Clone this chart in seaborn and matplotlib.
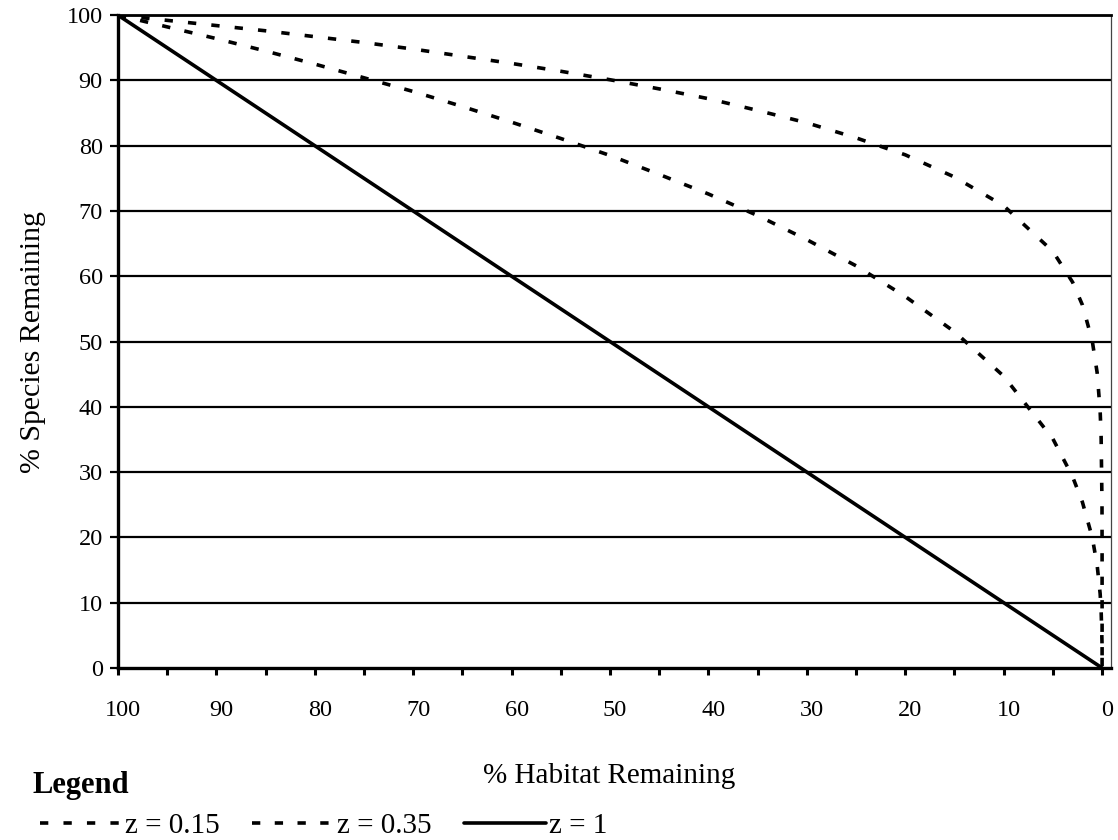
import matplotlib

matplotlib.use("Agg")

import matplotlib.pyplot as plt
import matplotlib.transforms as mtransforms
import pandas as pd
import seaborn as sns

sns.set_theme(style="white")
plt.rcParams["font.family"] = ["Liberation Serif", "DejaVu Serif"]
plt.rcParams["text.color"] = "black"
plt.rcParams["axes.labelcolor"] = "black"
plt.rcParams["xtick.color"] = "black"
plt.rcParams["ytick.color"] = "black"

# % habitat remaining (fine steps near zero)
habitat = [100, 95, 90, 85, 80, 75, 70, 65, 60, 55, 50, 45, 40, 35, 30,
           25, 20, 15, 10, 5, 3, 2, 1, 0.5, 0.2, 0.1, 0.01, 0.001, 0]

# % species remaining for each z
species_015 = [100, 99.2, 98.4, 97.6, 96.7, 95.8, 94.8, 93.7, 92.6, 91.4,
               90.1, 88.7, 87.2, 85.4, 83.5, 81.2, 78.6, 75.2, 70.8, 63.8,
               59.1, 55.6, 50.1, 45.2, 39.4, 35.5, 25.1, 17.8, 0]
species_035 = [100, 98.2, 96.4, 94.5, 92.5, 90.4, 88.3, 86.0, 83.6, 81.1,
               78.5, 75.6, 72.6, 69.3, 65.6, 61.6, 56.9, 51.5, 44.7, 35.1,
               29.3, 25.4, 20.0, 15.7, 11.4, 8.9, 4.0, 1.8, 0]
species_1 = [100, 95, 90, 85, 80, 75, 70, 65, 60, 55, 50, 45, 40, 35, 30,
             25, 20, 15, 10, 5, 3, 2, 1, 0.5, 0.2, 0.1, 0.01, 0.001, 0]

series_labels = ["z = 0.15", "z = 0.35", "z = 1"]
x_ticks_major = [100, 90, 80, 70, 60, 50, 40, 30, 20, 10, 0]
x_ticks_minor = [95, 85, 75, 65, 55, 45, 35, 25, 15, 5]
y_ticks = [0, 10, 20, 30, 40, 50, 60, 70, 80, 90, 100]

df = pd.DataFrame({
    "habitat": habitat * 3,
    "species": species_015 + species_035 + species_1,
    "z": [series_labels[0]] * len(habitat)
    + [series_labels[1]] * len(habitat)
    + [series_labels[2]] * len(habitat),
})

fig = plt.figure(figsize=(11.18, 8.4), dpi=100)
ax = fig.add_axes([0.1055, 0.2048, 0.8882, 0.7772])

for ytk in y_ticks[1:]:
    ax.axhline(ytk, color="black", lw=1.6, zorder=1)

dash_styles = {series_labels[0]: (2.3, 4.2), series_labels[1]: (2.3, 4.0),
               series_labels[2]: None}
for lab in series_labels:
    sub = df[df["z"] == lab]
    sns.lineplot(data=sub, x="habitat", y="species", ax=ax, color="black",
                 lw=2.6, label=lab, sort=False, estimator=None, zorder=3)
    line = ax.lines[-1]
    if dash_styles[lab] is not None:
        line.set_dashes(dash_styles[lab])

ax.set_xlim(100, -0.9)
ax.set_ylim(0, 100)
ax.set_xticks(x_ticks_major)
ax.set_xticks(x_ticks_minor, minor=True)
ax.set_yticks(y_ticks)

ax.tick_params(axis="x", which="both", direction="out", length=5, width=2.2,
               bottom=True, labelsize=17.5, pad=18, color="black")
ax.tick_params(axis="x", which="minor", labelbottom=False)
ax.tick_params(axis="y", direction="out", length=6, width=1.6, left=True,
               labelsize=17.5, pad=5, color="black")

# Excel-style labels sit a little right of their ticks
shift = mtransforms.ScaledTranslation(0.05, 0, fig.dpi_scale_trans)
for lbl in ax.get_xticklabels():
    lbl.set_transform(lbl.get_transform() + shift)

for side in ["left", "bottom"]:
    ax.spines[side].set_linewidth(2.4)
    ax.spines[side].set_color("black")
ax.spines["top"].set_linewidth(2.0)
ax.spines["top"].set_color("black")
ax.spines["right"].set_linewidth(0.9)
ax.spines["right"].set_color("#444444")

ax.set_ylabel("% Species Remaining", fontsize=21.5, labelpad=15)
ax.set_xlabel("% Habitat Remaining", fontsize=21)
ax.xaxis.set_label_coords(0.495, -0.146)

leg = ax.legend(loc="center left", bbox_to_anchor=(0.036, 0.0167),
                bbox_transform=fig.transFigure, ncol=3, frameon=False,
                fontsize=21, handlelength=2.8, handletextpad=0.12,
                columnspacing=1.1, borderpad=0, borderaxespad=0)

fig.text(0.0295, 1 - 785 / 840, "Legend", fontsize=22, fontweight="bold",
         va="center", ha="left")

fig.savefig("out.png", dpi=100)
plt.close(fig)
